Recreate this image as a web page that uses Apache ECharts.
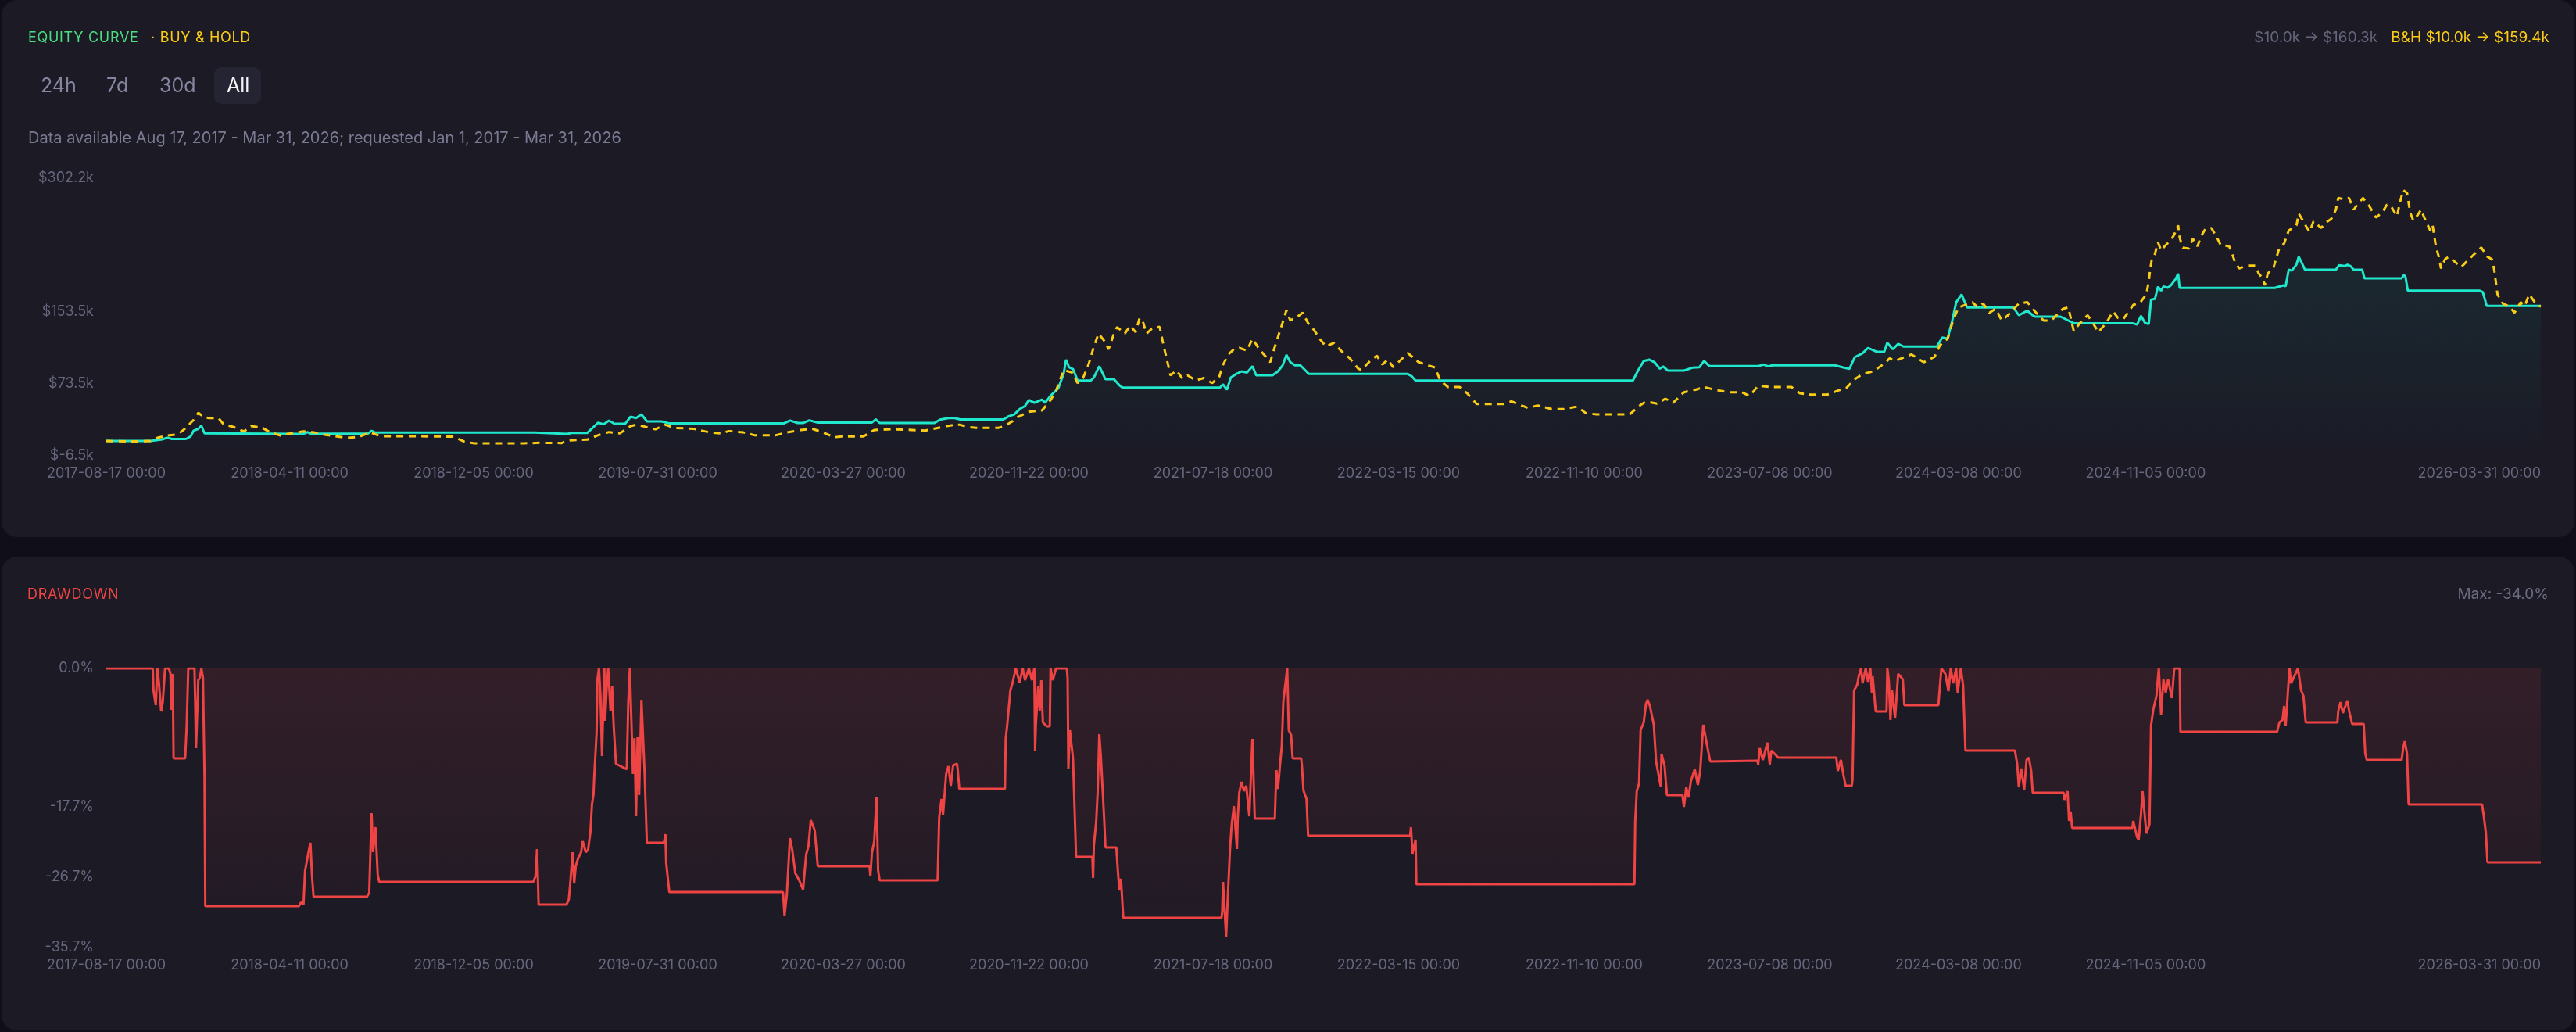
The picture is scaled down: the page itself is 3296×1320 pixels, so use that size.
<!DOCTYPE html>
<html><head><meta charset="utf-8">
<script src="https://cdn.jsdelivr.net/npm/echarts@6/dist/echarts.min.js"></script>
<style>
html,body{margin:0;padding:0;width:3296px;height:1320px;background:#100f19;overflow:hidden;font-family:Inter,"Noto Sans",sans-serif;}
.card{position:absolute;left:2px;width:3292px;background:#1b1a25;border-radius:20px;}
.t{position:absolute;white-space:nowrap;line-height:1;}
#chart{position:absolute;left:0;top:0;width:3296px;height:1320px;}
.btn{position:absolute;top:86px;height:47px;border-radius:9px;}
</style></head><body>
<div class="card" style="top:0;height:687px"></div>
<div class="card" style="top:712px;height:606px"></div>
<div class="btn" style="left:274px;width:60px;background:#252432"></div>
<div id="chart"></div>
<div class="t" style="left:36px;top:39px;font-size:18px;letter-spacing:0.7px;color:#4ade80">EQUITY CURVE</div>
<div class="t" style="left:193px;top:39px;font-size:18px;letter-spacing:0.7px;color:#facc15">· BUY &amp; HOLD</div>
<div class="t" style="left:52px;top:97px;font-size:25px;color:#8585a0">24h</div>
<div class="t" style="left:136px;top:97px;font-size:25px;color:#8585a0">7d</div>
<div class="t" style="left:204px;top:97px;font-size:25px;color:#8585a0">30d</div>
<div class="t" style="left:290px;top:97px;font-size:25px;color:#f2f2f7">All</div>
<div class="t" style="left:36px;top:166px;font-size:20px;color:#7a7a92">Data available Aug 17, 2017 - Mar 31, 2026; requested Jan 1, 2017 - Mar 31, 2026</div>
<div class="t" style="right:34px;top:38px;font-size:19px;"><span style="color:#65657c">$10.0k → $160.3k</span><span style="color:#facc15;margin-left:17px">B&amp;H $10.0k → $159.4k</span></div>
<div class="t" style="left:35px;top:751px;font-size:18px;letter-spacing:0.7px;color:#ef4444">DRAWDOWN</div>
<div class="t" style="right:35px;top:750px;font-size:19px;color:#6b6b82">Max: -34.0%</div>
<script>
// ---- data (day offset from first date, value) ----
const startDate = '2017-08-17';
const endDate = '2026-03-31';
const xTickLabels = ['2017-08-17 00:00','2018-04-11 00:00','2018-12-05 00:00','2019-07-31 00:00','2020-03-27 00:00','2020-11-22 00:00','2021-07-18 00:00','2022-03-15 00:00','2022-11-10 00:00','2023-07-08 00:00','2024-03-08 00:00','2024-11-05 00:00','2026-03-31 00:00'];
const equityYTicks = [-6.5, 73.5, 153.5, 302.2];
const drawdownYTicks = [-35.7, -26.7, -17.7, 0];

// strategy equity, $k
const equityK = [[0,10.0],[57,10.0],[65,10.8],[71,11.5],[79,13.5],[85,12.2],[103,12.2],[109,15.0],[113,21.5],[119,23.5],[123,27.0],[127,18.5],[128,17.8],[251,17.8],[257,18.5],[260,19.8],[265,18.0],[338,18.0],[343,21.3],[348,19.3],[554,19.3],[556,17.8],[596,17.8],[603,19.2],[622,19.0],[636,30.3],[643,28.5],[650,32.6],[657,29.2],[671,29.2],[678,37.0],[685,35.5],[692,39.6],[699,31.8],[718,31.8],[728,29.5],[876,29.5],[884,32.8],[894,30.0],[901,30.0],[909,33.0],[920,30.5],[990,30.5],[995,34.0],[1000,30.0],[1071,30.0],[1078,33.8],[1089,35.5],[1097,35.5],[1104,34.0],[1160,34.0],[1167,37.5],[1174,39.5],[1181,45.4],[1188,49.0],[1193,55.5],[1200,52.5],[1210,56.0],[1214,52.5],[1221,60.3],[1231,68.5],[1238,85.0],[1241,100.5],[1245,91.8],[1250,90.0],[1256,77.2],[1273,77.2],[1277,80.5],[1284,93.2],[1292,78.7],[1303,78.7],[1310,72.0],[1314,69.4],[1440,69.4],[1444,73.0],[1449,67.0],[1454,80.5],[1461,84.5],[1468,87.4],[1475,86.0],[1482,93.2],[1487,83.0],[1508,83.0],[1515,87.4],[1521,94.0],[1526,105.7],[1531,97.6],[1537,94.1],[1544,94.1],[1550,88.9],[1555,84.5],[1683,84.5],[1688,82.0],[1693,77.2],[1974,77.2],[1981,88.9],[1988,99.0],[1995,100.5],[2002,97.6],[2009,90.3],[2013,93.0],[2019,88.3],[2040,88.3],[2051,91.5],[2060,92.0],[2066,99.0],[2073,93.2],[2136,93.2],[2143,95.0],[2149,93.0],[2155,94.1],[2235,94.1],[2247,91.5],[2254,90.3],[2261,103.3],[2271,107.5],[2278,113.5],[2289,109.2],[2299,109.2],[2303,119.3],[2310,112.0],[2317,118.0],[2324,115.0],[2367,115.0],[2374,125.1],[2381,124.0],[2387,144.0],[2392,164.3],[2399,173.0],[2406,158.5],[2466,158.5],[2473,149.8],[2484,155.0],[2491,149.8],[2494,148.3],[2527,148.3],[2544,141.0],[2620,141.0],[2626,139.5],[2631,149.2],[2636,141.5],[2641,140.0],[2644,167.2],[2649,168.0],[2653,181.7],[2657,177.0],[2660,181.7],[2666,180.5],[2670,183.5],[2676,190.3],[2679,196.1],[2681,180.2],[2804,180.2],[2815,183.1],[2818,182.0],[2822,200.5],[2826,199.5],[2832,206.3],[2835,214.9],[2839,208.0],[2843,200.5],[2883,200.5],[2887,205.4],[2894,204.5],[2898,206.0],[2902,204.5],[2906,200.5],[2917,200.5],[2920,190.9],[2968,190.9],[2971,194.6],[2973,192.5],[2976,177.2],[3069,177.2],[3073,175.5],[3078,160.3],[3148,160.3]];

// buy & hold, $k
const buyHoldK = [[0,10.0],[34,9.5],[57,10.0],[66,13.5],[79,16.1],[93,17.5],[102,23.9],[113,33.5],[119,41.3],[126,36.5],[133,35.5],[145,35.5],[152,28.3],[165,25.5],[178,20.5],[187,26.5],[201,25.0],[212,19.6],[225,16.1],[242,19.0],[255,20.7],[269,19.5],[282,17.0],[296,15.2],[311,13.5],[327,14.5],[341,19.6],[355,15.2],[404,15.2],[449,14.8],[463,9.2],[476,7.4],[540,7.4],[560,8.0],[589,7.7],[596,10.6],[622,11.5],[636,16.4],[650,19.9],[664,18.5],[678,26.5],[685,28.0],[696,26.0],[710,23.0],[723,28.0],[735,24.5],[760,23.5],[781,19.3],[795,18.5],[805,21.0],[824,19.5],[838,16.4],[866,16.4],[880,19.5],[898,22.2],[913,23.5],[927,19.5],[941,14.1],[951,15.0],[979,15.0],[993,22.2],[1015,23.0],[1036,22.5],[1059,21.5],[1082,25.7],[1097,28.0],[1104,28.0],[1115,25.5],[1125,24.5],[1153,24.5],[1161,26.5],[1171,31.5],[1179,36.7],[1193,42.5],[1210,44.0],[1221,55.5],[1228,65.7],[1238,88.9],[1249,86.0],[1256,74.4],[1263,80.0],[1270,94.7],[1277,115.0],[1283,129.4],[1291,120.7],[1296,112.0],[1303,129.4],[1307,136.7],[1317,129.4],[1324,138.1],[1331,131.0],[1336,146.3],[1340,144.0],[1345,129.4],[1352,135.0],[1362,137.0],[1366,120.7],[1369,109.2],[1373,94.7],[1376,83.0],[1384,88.5],[1391,80.0],[1398,83.0],[1409,77.2],[1419,80.0],[1430,74.4],[1439,81.0],[1444,94.7],[1451,106.3],[1458,112.0],[1465,113.5],[1475,110.5],[1482,123.7],[1491,112.0],[1498,105.0],[1505,97.6],[1510,112.0],[1517,130.9],[1522,144.0],[1526,155.5],[1531,144.0],[1540,148.0],[1547,152.6],[1554,141.0],[1562,133.0],[1569,123.7],[1577,115.0],[1587,119.0],[1598,109.2],[1608,101.9],[1619,90.3],[1623,89.0],[1636,100.5],[1643,104.8],[1650,95.0],[1657,100.5],[1664,92.0],[1683,107.7],[1697,97.6],[1707,94.7],[1718,91.8],[1725,77.2],[1735,70.0],[1750,70.0],[1760,62.8],[1772,51.2],[1807,51.2],[1817,54.0],[1838,46.8],[1851,49.5],[1869,45.5],[1885,45.5],[1902,48.3],[1913,41.0],[1927,39.6],[1970,39.6],[1981,48.3],[1991,54.0],[2005,51.5],[2016,57.0],[2026,52.5],[2040,64.2],[2055,67.0],[2066,70.0],[2080,67.0],[2097,64.2],[2115,64.2],[2125,60.0],[2136,71.5],[2151,70.0],[2179,70.0],[2190,63.0],[2204,61.5],[2225,61.5],[2239,66.0],[2250,69.0],[2261,78.7],[2271,84.5],[2285,87.4],[2299,96.1],[2306,101.9],[2313,99.0],[2334,106.3],[2350,97.6],[2364,103.5],[2371,116.4],[2381,123.7],[2388,144.0],[2395,158.5],[2413,164.3],[2420,158.5],[2427,162.8],[2435,152.6],[2443,157.0],[2451,144.0],[2459,149.8],[2473,162.8],[2484,164.3],[2494,154.0],[2505,144.0],[2515,144.0],[2530,157.0],[2537,158.5],[2544,132.4],[2552,141.0],[2562,149.8],[2569,141.0],[2576,130.9],[2587,142.5],[2595,154.0],[2601,147.0],[2608,145.5],[2614,152.6],[2621,161.3],[2630,164.0],[2634,168.6],[2638,173.0],[2641,187.4],[2643,201.9],[2645,212.0],[2649,218.0],[2653,230.9],[2657,222.0],[2662,227.0],[2670,233.8],[2674,239.6],[2679,249.8],[2681,236.0],[2685,225.1],[2693,224.0],[2698,235.0],[2704,226.5],[2709,238.1],[2714,245.4],[2722,246.8],[2728,238.1],[2734,228.0],[2745,226.5],[2749,218.0],[2753,207.7],[2758,202.0],[2768,205.0],[2779,205.0],[2783,196.5],[2789,190.3],[2791,183.1],[2795,196.5],[2802,202.0],[2810,225.1],[2816,229.5],[2822,244.0],[2832,249.8],[2835,262.8],[2839,257.0],[2845,248.0],[2849,242.5],[2854,254.1],[2864,247.0],[2870,253.0],[2877,257.0],[2883,267.2],[2886,280.2],[2894,278.8],[2900,280.2],[2906,267.2],[2912,274.4],[2918,280.2],[2926,271.5],[2932,262.8],[2935,258.5],[2943,264.2],[2949,272.9],[2955,270.0],[2962,259.9],[2966,275.9],[2970,288.9],[2975,286.0],[2979,264.2],[2983,255.5],[2989,261.5],[2993,267.2],[2998,257.0],[3005,244.0],[3008,250.0],[3010,239.5],[3012,228.0],[3016,214.9],[3019,201.9],[3024,212.0],[3029,214.9],[3045,203.4],[3050,207.7],[3062,217.9],[3071,225.1],[3079,214.9],[3085,212.0],[3088,199.0],[3090,185.9],[3092,173.0],[3099,162.8],[3107,159.9],[3114,152.6],[3122,164.3],[3127,160.0],[3133,173.0],[3139,165.7],[3143,161.5],[3148,159.4]];

// drawdown, %
const drawdownPct = [[0,0],[60,0],[61,-2.8],[64,-4.7],[66,0],[68,-1.8],[71,-5.5],[73,-4.3],[76,0],[81,0],[83,-0.7],[84,-5.3],[86,-0.7],[87,-11.5],[102,-11.5],[104,-7.2],[106,0],[114,0],[115,-4.4],[116,-10.2],[119,-1.5],[121,-1.2],[123,0],[125,-1.2],[127,-13.7],[128,-30.4],[249,-30.4],[252,-29.9],[255,-30.2],[257,-25.9],[262,-23.2],[264,-22.3],[266,-26.5],[268,-29.2],[337,-29.2],[340,-28.7],[343,-18.5],[345,-23.5],[348,-20.3],[351,-26.4],[353,-27.3],[552,-27.3],[555,-26.6],[557,-23.1],[559,-30.2],[595,-30.2],[598,-29.6],[600,-27.4],[603,-23.5],[605,-27.5],[607,-25.3],[610,-24.3],[614,-23.5],[616,-22.1],[620,-23.5],[623,-23.2],[626,-20.9],[628,-17.4],[630,-16.1],[631,-13.7],[634,-8.2],[635,-1.5],[637,0],[639,-3.5],[641,-11.2],[643,-3.5],[644,0],[645,-6.7],[647,-2.5],[649,0],[652,-5.5],[654,-2.2],[656,-7.2],[659,-12.2],[673,-12.9],[675,-4.2],[677,0],[679,0],[681,-13.5],[683,-8.9],[685,-18.9],[687,-8.8],[689,-16.2],[692,-4.0],[696,-13.2],[699,-22.3],[721,-22.3],[723,-21.2],[724,-24.9],[728,-28.6],[875,-28.6],[877,-31.6],[880,-28.9],[884,-21.7],[887,-23.2],[891,-26.2],[896,-27.1],[901,-28.3],[905,-23.8],[908,-22.7],[911,-19.4],[916,-20.7],[920,-25.3],[987,-25.3],[988,-26.6],[990,-23.6],[993,-22.1],[996,-16.4],[998,-25.8],[1000,-27.1],[1075,-27.1],[1077,-19.1],[1080,-16.7],[1082,-18.7],[1086,-13.5],[1089,-12.5],[1092,-15.0],[1095,-12.4],[1100,-12.2],[1101,-13.0],[1103,-15.4],[1162,-15.4],[1163,-9.0],[1165,-7.2],[1169,-2.8],[1172,-1.8],[1176,0],[1181,-1.8],[1185,0],[1188,-1.5],[1193,0],[1197,-1.5],[1200,0],[1201,-10.5],[1202,-7.2],[1205,-2.3],[1207,-5.4],[1209,-1.5],[1211,-6.9],[1216,-7.4],[1220,-7.4],[1221,0],[1224,-1.5],[1228,0],[1242,0],[1243,-1.2],[1244,-12.9],[1246,-7.9],[1250,-11.5],[1254,-24.1],[1275,-24.1],[1276,-26.8],[1277,-22.6],[1280,-19.6],[1282,-15.6],[1284,-8.4],[1286,-11.2],[1290,-18.7],[1292,-22.9],[1306,-22.9],[1308,-25.9],[1310,-28.4],[1312,-26.9],[1315,-31.9],[1442,-31.9],[1443,-31.1],[1444,-27.3],[1448,-34.3],[1450,-29.6],[1453,-23.2],[1455,-20.2],[1458,-17.6],[1462,-23.1],[1463,-19.2],[1465,-15.9],[1468,-14.5],[1471,-15.7],[1474,-15.0],[1478,-18.9],[1480,-13.9],[1482,-9.0],[1485,-19.2],[1511,-19.2],[1513,-13.0],[1515,-15.4],[1518,-12.0],[1520,-9.9],[1522,-4.2],[1524,-2.5],[1527,0],[1529,-7.9],[1532,-8.5],[1534,-11.5],[1545,-11.5],[1546,-12.4],[1548,-15.6],[1552,-16.7],[1554,-21.4],[1686,-21.4],[1687,-20.3],[1689,-23.7],[1693,-21.9],[1694,-27.6],[1976,-27.6],[1977,-19.6],[1979,-15.7],[1982,-14.7],[1984,-7.9],[1988,-6.9],[1991,-4.5],[1993,-4.0],[1996,-4.8],[2001,-7.2],[2004,-11.9],[2010,-15.1],[2011,-10.9],[2015,-12.5],[2018,-16.2],[2038,-16.2],[2040,-17.7],[2043,-15.2],[2046,-16.5],[2049,-14.4],[2054,-12.9],[2058,-14.9],[2061,-13.2],[2065,-7.2],[2070,-9.9],[2074,-11.9],[2135,-11.8],[2136,-12.3],[2138,-10.2],[2142,-11.7],[2148,-9.5],[2151,-12.3],[2153,-10.5],[2162,-11.4],[2237,-11.4],[2239,-13.1],[2243,-11.7],[2246,-13.5],[2249,-15.0],[2257,-15.0],[2258,-14.2],[2260,-2.8],[2264,-2.1],[2266,-1.0],[2269,0],[2271,-1.9],[2275,0],[2278,-1.7],[2281,0],[2283,-3.1],[2284,-1.0],[2288,-5.5],[2302,-5.5],[2303,0],[2305,-1.7],[2307,-6.6],[2309,-2.8],[2313,-6.4],[2317,-0.7],[2323,-1.4],[2325,-4.7],[2369,-4.7],[2371,-2.2],[2373,0],[2378,-0.7],[2382,-2.9],[2385,0],[2388,-1.9],[2392,0],[2394,-3.1],[2398,0],[2401,-2.2],[2404,-10.5],[2468,-10.5],[2471,-12.3],[2473,-15.2],[2476,-12.8],[2480,-15.5],[2483,-11.7],[2486,-11.4],[2489,-13.1],[2491,-15.9],[2531,-15.9],[2532,-16.8],[2536,-15.7],[2538,-19.5],[2540,-18.3],[2542,-20.4],[2620,-20.4],[2621,-19.5],[2626,-21.6],[2628,-21.9],[2631,-18.7],[2633,-15.7],[2636,-19.0],[2638,-21.1],[2642,-19.9],[2644,-7.3],[2647,-5.2],[2651,-3.5],[2654,0],[2657,-5.9],[2660,-1.4],[2663,-3.1],[2666,-1.4],[2671,-3.8],[2674,0],[2681,0],[2682,-8.1],[2807,-8.1],[2810,-6.9],[2814,-6.6],[2816,-4.8],[2818,-7.4],[2823,0],[2825,-1.9],[2834,0],[2838,-2.8],[2841,-3.5],[2844,-6.9],[2885,-6.9],[2886,-5.5],[2889,-4.3],[2892,-5.7],[2898,-4.1],[2900,-5.4],[2904,-7.1],[2919,-7.1],[2921,-10.9],[2923,-11.7],[2968,-11.7],[2970,-10.2],[2972,-9.3],[2975,-10.9],[2977,-17.4],[3072,-17.4],[3074,-18.7],[3077,-21.1],[3079,-24.8],[3148,-24.8]];

// ---- daily category axis ----
const categories = [];
{
  const t0 = Date.parse(startDate + 'T00:00:00Z'), t1 = Date.parse(endDate + 'T00:00:00Z');
  for (let t = t0; t <= t1; t += 86400000) categories.push(new Date(t).toISOString().slice(0, 10) + ' 00:00');
}
const labelSet = new Set(xTickLabels);
const FONT = 'Inter';
const AX = '#66667d';

function xAxis(gi) {
  return {
    type: 'category', gridIndex: gi, data: categories, boundaryGap: false,
    axisLine: { show: false }, axisTick: { show: false }, splitLine: { show: false },
    axisLabel: { interval: (i, v) => labelSet.has(v), color: AX, fontSize: 18, fontFamily: FONT, margin: 14, alignMaxLabel: 'right' }
  };
}

const chart = echarts.init(document.getElementById('chart'), null, { renderer: 'canvas' });
chart.setOption({
  animation: false,
  backgroundColor: 'transparent',
  grid: [
    { left: 136, right: 45, top: 228, height: 355, containLabel: false, outerBoundsMode: 'none' },
    { left: 136, right: 45, top: 855, height: 357, containLabel: false, outerBoundsMode: 'none' }
  ],
  xAxis: [xAxis(0), xAxis(1)],
  yAxis: [
    { type: 'value', gridIndex: 0, min: -6.5, max: 302.2,
      axisLine: { show: false }, axisTick: { show: false }, splitLine: { show: false },
      axisLabel: { customValues: equityYTicks, formatter: v => '$' + v.toFixed(1) + 'k', color: AX, fontSize: 18, fontFamily: FONT, margin: 16 } },
    { type: 'value', gridIndex: 1, min: -35.7, max: 0,
      axisLine: { show: false }, axisTick: { show: false }, splitLine: { show: false },
      axisLabel: { customValues: drawdownYTicks, formatter: v => v.toFixed(1) + '%', color: AX, fontSize: 18, fontFamily: FONT, margin: 16 } }
  ],
  series: [
    { name: 'Equity', type: 'line', xAxisIndex: 0, yAxisIndex: 0, data: equityK, showSymbol: false, z: 2,
      lineStyle: { color: '#1fe8cc', width: 3 },
      areaStyle: { color: new echarts.graphic.LinearGradient(0, 0, 0, 1, [
        { offset: 0, color: 'rgba(31,230,200,0.11)' }, { offset: 1, color: 'rgba(31,230,200,0.01)' }]) } },
    { name: 'Buy & Hold', type: 'line', xAxisIndex: 0, yAxisIndex: 0, data: buyHoldK, showSymbol: false, z: 3,
      lineStyle: { color: '#facc15', width: 3, type: [9, 7] } },
    { name: 'Drawdown', type: 'line', xAxisIndex: 1, yAxisIndex: 1, data: drawdownPct, showSymbol: false, z: 2,
      lineStyle: { color: '#ef4444', width: 3 },
      areaStyle: { color: new echarts.graphic.LinearGradient(0, 0, 0, 1, [
        { offset: 0, color: 'rgba(239,68,68,0.16)' }, { offset: 1, color: 'rgba(239,68,68,0.04)' }]) } }
  ]
});
</script>
</body></html>
